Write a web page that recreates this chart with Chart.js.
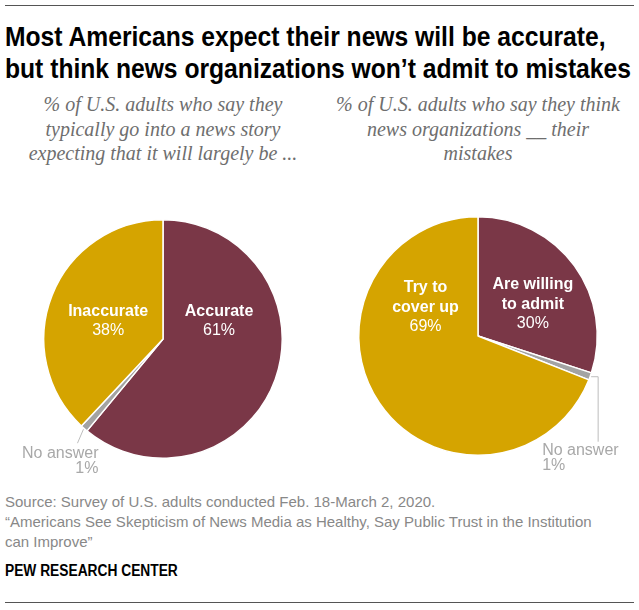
<!DOCTYPE html>
<html>
<head>
<meta charset="utf-8">
<script src="https://cdn.jsdelivr.net/npm/chart.js@4/dist/chart.umd.min.js"></script>
<style>
  body { margin: 0; background: #fff; }
  #wrap { position: relative; width: 639px; height: 610px; overflow: hidden; font-family: "Liberation Sans", Arial, sans-serif; }
  .rule { position: absolute; left: 5px; width: 629px; height: 0; border-top: 1.5px solid #555; }
  #title { position: absolute; left: 5px; top: 21px; font-size: 27px; font-weight: bold; line-height: 32px; color: #000; white-space: nowrap; transform: scaleX(0.913); transform-origin: 0 0; }
  .sub { position: absolute; top: 92px; width: 300px; text-align: center; font-family: "Liberation Serif", "DejaVu Serif", serif; font-style: italic; font-size: 20px; line-height: 24.5px; color: #6e6e6e; white-space: nowrap; }
  #foot { position: absolute; left: 5px; top: 492px; font-size: 15px; line-height: 20px; color: #888; white-space: nowrap; }
  #pew { position: absolute; left: 5px; top: 562px; font-size: 16px; font-weight: bold; color: #000; white-space: nowrap; transform: scaleX(0.86); transform-origin: 0 0; }
  canvas { position: absolute; }
</style>
</head>
<body>
<div id="wrap">
  <div class="rule" style="top:5px"></div>
  <div id="title">Most Americans expect their news will be accurate,<br>but think news organizations won’t admit to mistakes</div>
  <div class="sub" style="left:13px">% of U.S. adults who say they<br>typically go into a news story<br>expecting that it will largely be ...</div>
  <div class="sub" style="left:328px">% of U.S. adults who say they think<br>news organizations __ their<br>mistakes</div>
  <canvas id="leftPie" width="320" height="300" style="left:0;top:190px"></canvas>
  <canvas id="rightPie" width="319" height="300" style="left:320px;top:190px"></canvas>
  <div id="foot">Source: Survey of U.S. adults conducted Feb. 18-March 2, 2020.<br>“Americans See Skepticism of News Media as Healthy, Say Public Trust in the Institution<br>can Improve”</div>
  <div id="pew">PEW RESEARCH CENTER</div>
  <div class="rule" style="top:602px"></div>
</div>
<script>
// left pie: expectations of accuracy
var leftLabels = ["Accurate", "No answer", "Inaccurate"];
var leftValues = [61, 1, 38];
var leftLines = [["Accurate"], ["No answer"], ["Inaccurate"]];

// right pie: admitting mistakes
var rightLabels = ["Are willing to admit", "No answer", "Try to cover up"];
var rightValues = [30, 1, 69];
var rightLines = [["Are willing", "to admit"], ["No answer"], ["Try to", "cover up"]];

var sliceColors = ["#7a3747", "#a3a3a3", "#d5a400"];

var sliceLabels = {
    id: 'sliceLabels',
    afterDatasetsDraw: function (chart, args, opts) {
        var ctx = chart.ctx;
        var meta = chart.getDatasetMeta(0);
        var values = chart.data.datasets[0].data;
        ctx.save();
        meta.data.forEach(function (arc, i) {
            var p = arc.getProps(['x', 'y', 'startAngle', 'endAngle', 'outerRadius'], true);
            var lines = opts.lines[i];
            var pos = opts.places[i];
            if (pos.callout) {
                var mid = (p.startAngle + p.endAngle) / 2;
                var ex = p.x + Math.cos(mid) * (p.outerRadius + 1);
                var ey = p.y + Math.sin(mid) * (p.outerRadius + 1);
                ctx.strokeStyle = '#bdbdbd';
                ctx.lineWidth = 1;
                ctx.beginPath();
                ctx.moveTo(ex, ey);
                pos.path.forEach(function (pt) { ctx.lineTo(ex + pt[0], ey + pt[1]); });
                ctx.stroke();
                ctx.fillStyle = '#a8a8a8';
                ctx.font = '16px "Liberation Sans", Arial, sans-serif';
                ctx.textAlign = pos.align;
                ctx.textBaseline = 'middle';
                ctx.fillText(lines[0], ex + pos.tx, ey + pos.ty);
                ctx.fillText(values[i] + '%', ex + pos.tx, ey + pos.ty + 15);
            } else {
                var lx = p.x + pos.fx * p.outerRadius;
                var ly = p.y + pos.fy * p.outerRadius;
                ctx.fillStyle = '#fff';
                ctx.textAlign = 'center';
                ctx.textBaseline = 'middle';
                ctx.font = 'bold 16px "Liberation Sans", Arial, sans-serif';
                lines.forEach(function (t, k) { ctx.fillText(t, lx, ly + k * 20); });
                ctx.font = '16px "Liberation Sans", Arial, sans-serif';
                ctx.fillText(values[i] + '%', lx, ly + (lines.length - 1) * 20 + 19);
            }
        });
        ctx.restore();
    }
};

function makePie(id, labels, values, lines, places, padding) {
    return new Chart(document.getElementById(id), {
        type: 'pie',
        data: {
            labels: labels,
            datasets: [{
                data: values,
                backgroundColor: sliceColors,
                borderColor: '#fff',
                borderWidth: 1.5
            }]
        },
        options: {
            responsive: false,
            animation: false,
            layout: { padding: padding },
            plugins: {
                legend: { display: false },
                tooltip: { enabled: false },
                sliceLabels: { lines: lines, places: places }
            }
        },
        plugins: [sliceLabels]
    });
}

makePie('leftPie', leftLabels, leftValues, leftLines, [
    { fx: 0.47, fy: -0.23 },
    { callout: true, path: [[-6, 14]], align: 'right', tx: 15, ty: 24 },
    { fx: -0.46, fy: -0.23 }
], { left: 43, top: 29, right: 37, bottom: 31 });

makePie('rightPie', rightLabels, rightValues, rightLines, [
    { fx: 0.46, fy: -0.43 },
    { callout: true, path: [[7, 0], [7, 65]], align: 'left', tx: -49, ty: 74 },
    { fx: -0.44, fy: -0.41 }
], { left: 38, top: 26, right: 41, bottom: 34 });
</script>
</body>
</html>
